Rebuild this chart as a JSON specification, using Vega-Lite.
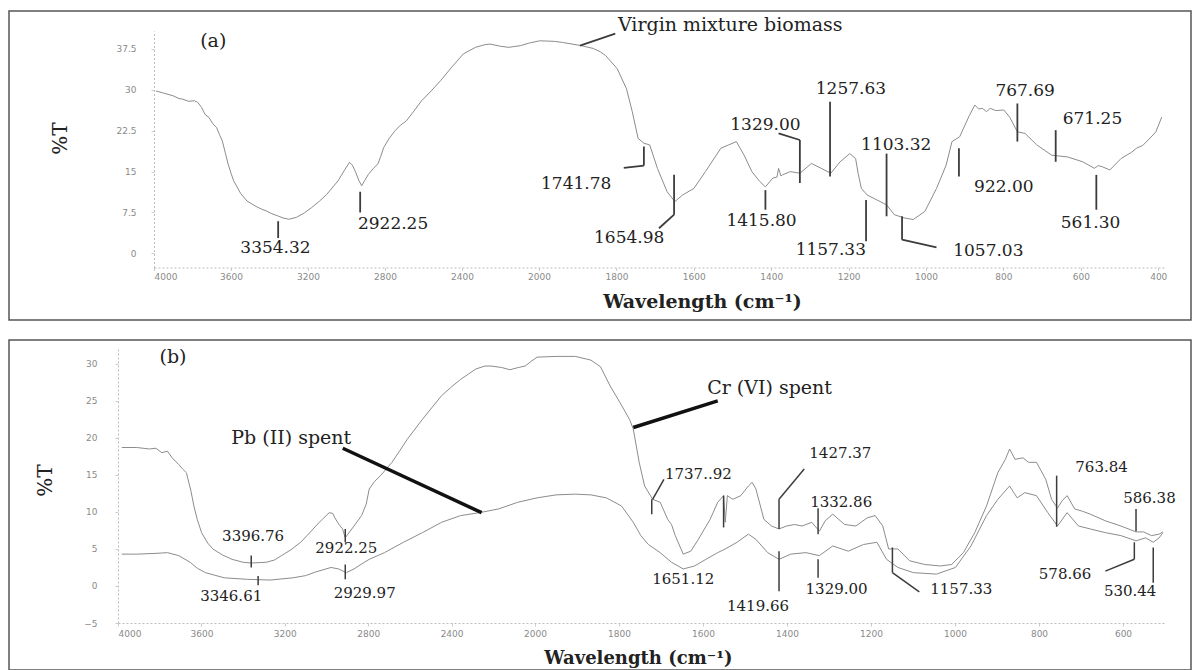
{
  "$schema": "https://vega.github.io/schema/vega-lite/v6.json",
  "padding": {"left": 8, "top": 10, "right": 0, "bottom": 0},
  "background": "white",
  "spacing": 18,
  "config": {
    "view": {"stroke": "#555555", "strokeWidth": 1.5},
    "axis": {
      "grid": false,
      "domainColor": "#bdbdbd",
      "domainDash": [2, 2],
      "domainWidth": 1,
      "tickColor": "#cccccc",
      "tickSize": 3,
      "labelColor": "#8a8a8a",
      "labelFont": "DejaVu Sans",
      "labelFontSize": 9,
      "titleFont": "DejaVu Serif",
      "titleFontSize": 19,
      "titleFontWeight": "bold",
      "titleColor": "#222222"
    }
  },
  "datasets": {
    "specA": [
      {"wn": 3990, "T": 29.8}, {"wn": 3950, "T": 29.4}, {"wn": 3900, "T": 28.9}, {"wn": 3870, "T": 28.4}, {"wn": 3852, "T": 28.3},
      {"wn": 3820, "T": 27.9}, {"wn": 3790, "T": 28.0}, {"wn": 3773, "T": 27.7}, {"wn": 3753, "T": 26.8}, {"wn": 3735, "T": 25.5},
      {"wn": 3714, "T": 24.9}, {"wn": 3695, "T": 23.8}, {"wn": 3675, "T": 23.1}, {"wn": 3660, "T": 21.8}, {"wn": 3645, "T": 20.6},
      {"wn": 3630, "T": 18.5}, {"wn": 3615, "T": 16.4}, {"wn": 3600, "T": 14.7}, {"wn": 3586, "T": 13.3}, {"wn": 3550, "T": 11.0},
      {"wn": 3517, "T": 9.6}, {"wn": 3470, "T": 8.6}, {"wn": 3440, "T": 8.1}, {"wn": 3418, "T": 7.8}, {"wn": 3390, "T": 7.3},
      {"wn": 3359, "T": 6.9}, {"wn": 3330, "T": 6.5}, {"wn": 3300, "T": 6.25}, {"wn": 3260, "T": 6.6}, {"wn": 3220, "T": 7.4},
      {"wn": 3181, "T": 8.4}, {"wn": 3140, "T": 9.6}, {"wn": 3103, "T": 10.8}, {"wn": 3070, "T": 12.2}, {"wn": 3044, "T": 13.3},
      {"wn": 3010, "T": 15.3}, {"wn": 2984, "T": 16.7}, {"wn": 2970, "T": 16.2}, {"wn": 2955, "T": 15.1}, {"wn": 2935, "T": 13.3},
      {"wn": 2921, "T": 12.4}, {"wn": 2905, "T": 13.4}, {"wn": 2886, "T": 14.5}, {"wn": 2860, "T": 15.6}, {"wn": 2837, "T": 16.4},
      {"wn": 2822, "T": 17.8}, {"wn": 2807, "T": 19.4}, {"wn": 2780, "T": 21.0}, {"wn": 2748, "T": 22.5}, {"wn": 2720, "T": 23.5},
      {"wn": 2689, "T": 24.3}, {"wn": 2650, "T": 26.1}, {"wn": 2610, "T": 28.0}, {"wn": 2560, "T": 29.8}, {"wn": 2511, "T": 31.7},
      {"wn": 2450, "T": 34.3}, {"wn": 2393, "T": 36.6}, {"wn": 2330, "T": 37.8}, {"wn": 2280, "T": 38.3}, {"wn": 2255, "T": 38.4},
      {"wn": 2200, "T": 38.0}, {"wn": 2157, "T": 37.8}, {"wn": 2120, "T": 38.0}, {"wn": 2097, "T": 38.1}, {"wn": 2050, "T": 38.6},
      {"wn": 1998, "T": 39.0}, {"wn": 1960, "T": 38.9}, {"wn": 1939, "T": 38.7}, {"wn": 1890, "T": 38.1}, {"wn": 1860, "T": 37.6},
      {"wn": 1842, "T": 37.0}, {"wn": 1828, "T": 36.3}, {"wn": 1798, "T": 33.9}, {"wn": 1774, "T": 30.2}, {"wn": 1759, "T": 26.0},
      {"wn": 1744, "T": 21.1}, {"wn": 1729, "T": 20.2}, {"wn": 1714, "T": 19.9}, {"wn": 1694, "T": 15.6}, {"wn": 1669, "T": 11.3},
      {"wn": 1649, "T": 9.5}, {"wn": 1629, "T": 10.7}, {"wn": 1600, "T": 11.9}, {"wn": 1570, "T": 15.0}, {"wn": 1530, "T": 19.3},
      {"wn": 1510, "T": 19.9}, {"wn": 1490, "T": 20.5}, {"wn": 1470, "T": 18.0}, {"wn": 1450, "T": 15.0}, {"wn": 1430, "T": 13.2},
      {"wn": 1415, "T": 12.2}, {"wn": 1396, "T": 13.8}, {"wn": 1385, "T": 14.0}, {"wn": 1381, "T": 15.6}, {"wn": 1375, "T": 14.2},
      {"wn": 1371, "T": 14.4}, {"wn": 1351, "T": 15.0}, {"wn": 1326, "T": 14.7}, {"wn": 1296, "T": 16.5}, {"wn": 1271, "T": 15.6},
      {"wn": 1246, "T": 14.7}, {"wn": 1222, "T": 16.8}, {"wn": 1197, "T": 18.3}, {"wn": 1182, "T": 17.4}, {"wn": 1175, "T": 14.5},
      {"wn": 1167, "T": 11.9}, {"wn": 1152, "T": 10.7}, {"wn": 1127, "T": 9.8}, {"wn": 1102, "T": 8.9}, {"wn": 1082, "T": 7.1},
      {"wn": 1057, "T": 6.5}, {"wn": 1033, "T": 6.2}, {"wn": 1003, "T": 7.7}, {"wn": 973, "T": 11.9}, {"wn": 948, "T": 16.2},
      {"wn": 933, "T": 20.5}, {"wn": 913, "T": 21.4}, {"wn": 888, "T": 25.3}, {"wn": 874, "T": 27.2}, {"wn": 864, "T": 26.5},
      {"wn": 854, "T": 26.6}, {"wn": 844, "T": 26.0}, {"wn": 834, "T": 26.6}, {"wn": 820, "T": 26.2}, {"wn": 799, "T": 26.3},
      {"wn": 784, "T": 25.0}, {"wn": 764, "T": 22.3}, {"wn": 744, "T": 22.0}, {"wn": 714, "T": 19.9}, {"wn": 675, "T": 18.0},
      {"wn": 635, "T": 17.7}, {"wn": 595, "T": 16.8}, {"wn": 565, "T": 15.6}, {"wn": 555, "T": 16.1}, {"wn": 545, "T": 15.9},
      {"wn": 525, "T": 15.3}, {"wn": 496, "T": 17.4}, {"wn": 470, "T": 18.5}, {"wn": 456, "T": 19.3}, {"wn": 440, "T": 19.8},
      {"wn": 426, "T": 20.8}, {"wn": 406, "T": 22.3}, {"wn": 391, "T": 25.0}
    ],
    "leadA": [
      {"x1": 1894, "y1": 38.1, "x2": 1803, "y2": 40.3},
      {"x1": 3355, "y1": 5.9, "x2": 3355, "y2": 2.8},
      {"x1": 2929, "y1": 11.3, "x2": 2929, "y2": 7.5},
      {"x1": 1729, "y1": 19.6, "x2": 1729, "y2": 16.1},
      {"x1": 1729, "y1": 16.1, "x2": 1781, "y2": 15.7},
      {"x1": 1651, "y1": 14.4, "x2": 1651, "y2": 7.1},
      {"x1": 1651, "y1": 7.1, "x2": 1690, "y2": 4.6},
      {"x1": 1415, "y1": 11.6, "x2": 1415, "y2": 8.0},
      {"x1": 1381, "y1": 22.0, "x2": 1326, "y2": 20.8},
      {"x1": 1326, "y1": 20.8, "x2": 1326, "y2": 12.9},
      {"x1": 1248, "y1": 27.8, "x2": 1248, "y2": 14.1},
      {"x1": 1102, "y1": 18.3, "x2": 1102, "y2": 6.8},
      {"x1": 1155, "y1": 9.8, "x2": 1155, "y2": 2.2},
      {"x1": 1062, "y1": 6.8, "x2": 1062, "y2": 2.5},
      {"x1": 1062, "y1": 2.5, "x2": 973, "y2": 1.1},
      {"x1": 915, "y1": 19.3, "x2": 915, "y2": 14.1},
      {"x1": 764, "y1": 27.5, "x2": 764, "y2": 20.5},
      {"x1": 665, "y1": 22.6, "x2": 665, "y2": 16.8},
      {"x1": 560, "y1": 14.4, "x2": 560, "y2": 8.0}
    ],
    "numA": [
      {"label": "3354.32", "x": 3369, "y": 0.9},
      {"label": "2922.25", "x": 2758, "y": 5.3},
      {"label": "1741.78", "x": 1904, "y": 12.8},
      {"label": "1654.98", "x": 1767, "y": 2.8},
      {"label": "1415.80", "x": 1425, "y": 6.0},
      {"label": "1329.00", "x": 1415, "y": 23.6},
      {"label": "1257.63", "x": 1194, "y": 30.1},
      {"label": "1103.32", "x": 1077, "y": 19.9},
      {"label": "1157.33", "x": 1246, "y": 0.7},
      {"label": "1057.03", "x": 839, "y": 0.5},
      {"label": "922.00", "x": 799, "y": 12.2},
      {"label": "767.69", "x": 744, "y": 29.7},
      {"label": "671.25", "x": 570, "y": 24.7},
      {"label": "561.30", "x": 575, "y": 5.5}
    ],
    "nameA": [
      {"label": "(a)", "x": 3760, "y": 39.0},
      {"label": "Virgin mixture biomass", "x": 1796, "y": 41.9}
    ],
    "specB": [
      {"series": "Cr (VI) spent", "wn": 3982, "T": 18.7}, {"series": "Cr (VI) spent", "wn": 3910, "T": 18.7}, {"series": "Cr (VI) spent", "wn": 3850, "T": 18.5},
      {"series": "Cr (VI) spent", "wn": 3818, "T": 18.6}, {"series": "Cr (VI) spent", "wn": 3790, "T": 18.0}, {"series": "Cr (VI) spent", "wn": 3763, "T": 18.2},
      {"series": "Cr (VI) spent", "wn": 3740, "T": 17.3}, {"series": "Cr (VI) spent", "wn": 3709, "T": 16.4}, {"series": "Cr (VI) spent", "wn": 3690, "T": 15.8},
      {"series": "Cr (VI) spent", "wn": 3672, "T": 15.3}, {"series": "Cr (VI) spent", "wn": 3650, "T": 12.8}, {"series": "Cr (VI) spent", "wn": 3636, "T": 10.8},
      {"series": "Cr (VI) spent", "wn": 3620, "T": 9.0}, {"series": "Cr (VI) spent", "wn": 3599, "T": 7.2}, {"series": "Cr (VI) spent", "wn": 3570, "T": 5.8},
      {"series": "Cr (VI) spent", "wn": 3545, "T": 5.0}, {"series": "Cr (VI) spent", "wn": 3500, "T": 4.2}, {"series": "Cr (VI) spent", "wn": 3453, "T": 3.6},
      {"series": "Cr (VI) spent", "wn": 3400, "T": 3.2}, {"series": "Cr (VI) spent", "wn": 3362, "T": 3.1}, {"series": "Cr (VI) spent", "wn": 3289, "T": 3.2},
      {"series": "Cr (VI) spent", "wn": 3250, "T": 3.5}, {"series": "Cr (VI) spent", "wn": 3216, "T": 4.1}, {"series": "Cr (VI) spent", "wn": 3170, "T": 4.9},
      {"series": "Cr (VI) spent", "wn": 3124, "T": 5.9}, {"series": "Cr (VI) spent", "wn": 3090, "T": 6.9}, {"series": "Cr (VI) spent", "wn": 3051, "T": 8.1},
      {"series": "Cr (VI) spent", "wn": 3020, "T": 9.0}, {"series": "Cr (VI) spent", "wn": 2987, "T": 9.9}, {"series": "Cr (VI) spent", "wn": 2970, "T": 9.8},
      {"series": "Cr (VI) spent", "wn": 2960, "T": 9.2}, {"series": "Cr (VI) spent", "wn": 2940, "T": 8.3}, {"series": "Cr (VI) spent", "wn": 2923, "T": 7.7},
      {"series": "Cr (VI) spent", "wn": 2910, "T": 6.5}, {"series": "Cr (VI) spent", "wn": 2900, "T": 6.9}, {"series": "Cr (VI) spent", "wn": 2868, "T": 8.1},
      {"series": "Cr (VI) spent", "wn": 2832, "T": 9.5}, {"series": "Cr (VI) spent", "wn": 2810, "T": 11.0}, {"series": "Cr (VI) spent", "wn": 2795, "T": 13.1},
      {"series": "Cr (VI) spent", "wn": 2770, "T": 14.1}, {"series": "Cr (VI) spent", "wn": 2741, "T": 14.9}, {"series": "Cr (VI) spent", "wn": 2686, "T": 16.7},
      {"series": "Cr (VI) spent", "wn": 2650, "T": 18.2}, {"series": "Cr (VI) spent", "wn": 2613, "T": 19.8}, {"series": "Cr (VI) spent", "wn": 2540, "T": 22.5},
      {"series": "Cr (VI) spent", "wn": 2448, "T": 25.7}, {"series": "Cr (VI) spent", "wn": 2400, "T": 26.9}, {"series": "Cr (VI) spent", "wn": 2357, "T": 27.9},
      {"series": "Cr (VI) spent", "wn": 2320, "T": 28.6}, {"series": "Cr (VI) spent", "wn": 2284, "T": 29.3}, {"series": "Cr (VI) spent", "wn": 2240, "T": 29.7},
      {"series": "Cr (VI) spent", "wn": 2211, "T": 29.7}, {"series": "Cr (VI) spent", "wn": 2160, "T": 29.5}, {"series": "Cr (VI) spent", "wn": 2120, "T": 29.2},
      {"series": "Cr (VI) spent", "wn": 2080, "T": 29.5}, {"series": "Cr (VI) spent", "wn": 2047, "T": 29.7}, {"series": "Cr (VI) spent", "wn": 2020, "T": 30.3},
      {"series": "Cr (VI) spent", "wn": 1995, "T": 30.9}, {"series": "Cr (VI) spent", "wn": 1950, "T": 31.0}, {"series": "Cr (VI) spent", "wn": 1904, "T": 31.0},
      {"series": "Cr (VI) spent", "wn": 1867, "T": 30.5}, {"series": "Cr (VI) spent", "wn": 1844, "T": 29.6}, {"series": "Cr (VI) spent", "wn": 1821, "T": 27.0},
      {"series": "Cr (VI) spent", "wn": 1798, "T": 24.8}, {"series": "Cr (VI) spent", "wn": 1775, "T": 22.5}, {"series": "Cr (VI) spent", "wn": 1766, "T": 21.2},
      {"series": "Cr (VI) spent", "wn": 1752, "T": 16.7}, {"series": "Cr (VI) spent", "wn": 1739, "T": 13.5}, {"series": "Cr (VI) spent", "wn": 1720, "T": 11.7},
      {"series": "Cr (VI) spent", "wn": 1702, "T": 11.3}, {"series": "Cr (VI) spent", "wn": 1684, "T": 9.0}, {"series": "Cr (VI) spent", "wn": 1675, "T": 8.3},
      {"series": "Cr (VI) spent", "wn": 1666, "T": 6.8}, {"series": "Cr (VI) spent", "wn": 1647, "T": 4.3}, {"series": "Cr (VI) spent", "wn": 1629, "T": 4.7},
      {"series": "Cr (VI) spent", "wn": 1611, "T": 6.3}, {"series": "Cr (VI) spent", "wn": 1583, "T": 9.0}, {"series": "Cr (VI) spent", "wn": 1565, "T": 11.3},
      {"series": "Cr (VI) spent", "wn": 1551, "T": 12.2}, {"series": "Cr (VI) spent", "wn": 1547, "T": 8.6}, {"series": "Cr (VI) spent", "wn": 1542, "T": 12.2},
      {"series": "Cr (VI) spent", "wn": 1529, "T": 11.7}, {"series": "Cr (VI) spent", "wn": 1510, "T": 12.2}, {"series": "Cr (VI) spent", "wn": 1492, "T": 13.5},
      {"series": "Cr (VI) spent", "wn": 1483, "T": 14.0}, {"series": "Cr (VI) spent", "wn": 1474, "T": 13.1}, {"series": "Cr (VI) spent", "wn": 1455, "T": 9.0},
      {"series": "Cr (VI) spent", "wn": 1437, "T": 8.1}, {"series": "Cr (VI) spent", "wn": 1419, "T": 7.7}, {"series": "Cr (VI) spent", "wn": 1401, "T": 8.1},
      {"series": "Cr (VI) spent", "wn": 1382, "T": 8.3}, {"series": "Cr (VI) spent", "wn": 1364, "T": 8.1}, {"series": "Cr (VI) spent", "wn": 1341, "T": 8.6},
      {"series": "Cr (VI) spent", "wn": 1323, "T": 7.4}, {"series": "Cr (VI) spent", "wn": 1309, "T": 8.8}, {"series": "Cr (VI) spent", "wn": 1291, "T": 9.7},
      {"series": "Cr (VI) spent", "wn": 1263, "T": 8.3}, {"series": "Cr (VI) spent", "wn": 1236, "T": 8.1}, {"series": "Cr (VI) spent", "wn": 1209, "T": 9.2},
      {"series": "Cr (VI) spent", "wn": 1190, "T": 9.5}, {"series": "Cr (VI) spent", "wn": 1172, "T": 8.1}, {"series": "Cr (VI) spent", "wn": 1158, "T": 5.0},
      {"series": "Cr (VI) spent", "wn": 1136, "T": 5.0}, {"series": "Cr (VI) spent", "wn": 1108, "T": 3.4}, {"series": "Cr (VI) spent", "wn": 1072, "T": 2.9},
      {"series": "Cr (VI) spent", "wn": 1035, "T": 2.7}, {"series": "Cr (VI) spent", "wn": 1008, "T": 2.9}, {"series": "Cr (VI) spent", "wn": 980, "T": 4.5},
      {"series": "Cr (VI) spent", "wn": 953, "T": 7.2}, {"series": "Cr (VI) spent", "wn": 925, "T": 10.8}, {"series": "Cr (VI) spent", "wn": 898, "T": 15.3},
      {"series": "Cr (VI) spent", "wn": 880, "T": 17.1}, {"series": "Cr (VI) spent", "wn": 870, "T": 18.5}, {"series": "Cr (VI) spent", "wn": 857, "T": 17.1},
      {"series": "Cr (VI) spent", "wn": 838, "T": 17.3}, {"series": "Cr (VI) spent", "wn": 825, "T": 16.7}, {"series": "Cr (VI) spent", "wn": 806, "T": 16.7},
      {"series": "Cr (VI) spent", "wn": 784, "T": 14.4}, {"series": "Cr (VI) spent", "wn": 770, "T": 11.7}, {"series": "Cr (VI) spent", "wn": 756, "T": 10.5},
      {"series": "Cr (VI) spent", "wn": 745, "T": 11.5}, {"series": "Cr (VI) spent", "wn": 733, "T": 12.2}, {"series": "Cr (VI) spent", "wn": 715, "T": 10.4},
      {"series": "Cr (VI) spent", "wn": 697, "T": 10.1}, {"series": "Cr (VI) spent", "wn": 678, "T": 9.7}, {"series": "Cr (VI) spent", "wn": 642, "T": 8.8},
      {"series": "Cr (VI) spent", "wn": 605, "T": 8.1}, {"series": "Cr (VI) spent", "wn": 569, "T": 7.3}, {"series": "Cr (VI) spent", "wn": 551, "T": 7.3},
      {"series": "Cr (VI) spent", "wn": 532, "T": 6.8}, {"series": "Cr (VI) spent", "wn": 514, "T": 7.0}, {"series": "Cr (VI) spent", "wn": 505, "T": 7.3},
      {"series": "Pb (II) spent", "wn": 3982, "T": 4.3}, {"series": "Pb (II) spent", "wn": 3910, "T": 4.3}, {"series": "Pb (II) spent", "wn": 3818, "T": 4.4},
      {"series": "Pb (II) spent", "wn": 3763, "T": 4.5}, {"series": "Pb (II) spent", "wn": 3709, "T": 4.1}, {"series": "Pb (II) spent", "wn": 3654, "T": 3.2},
      {"series": "Pb (II) spent", "wn": 3620, "T": 2.4}, {"series": "Pb (II) spent", "wn": 3581, "T": 1.8}, {"series": "Pb (II) spent", "wn": 3490, "T": 1.1},
      {"series": "Pb (II) spent", "wn": 3380, "T": 0.9}, {"series": "Pb (II) spent", "wn": 3271, "T": 0.8}, {"series": "Pb (II) spent", "wn": 3161, "T": 1.1},
      {"series": "Pb (II) spent", "wn": 3100, "T": 1.4}, {"series": "Pb (II) spent", "wn": 3051, "T": 1.9}, {"series": "Pb (II) spent", "wn": 2978, "T": 2.5},
      {"series": "Pb (II) spent", "wn": 2942, "T": 2.3}, {"series": "Pb (II) spent", "wn": 2905, "T": 1.8}, {"series": "Pb (II) spent", "wn": 2868, "T": 2.3},
      {"series": "Pb (II) spent", "wn": 2830, "T": 3.0}, {"series": "Pb (II) spent", "wn": 2795, "T": 3.6}, {"series": "Pb (II) spent", "wn": 2722, "T": 4.5},
      {"series": "Pb (II) spent", "wn": 2631, "T": 5.9}, {"series": "Pb (II) spent", "wn": 2540, "T": 7.2}, {"series": "Pb (II) spent", "wn": 2448, "T": 8.6},
      {"series": "Pb (II) spent", "wn": 2357, "T": 9.5}, {"series": "Pb (II) spent", "wn": 2266, "T": 9.9}, {"series": "Pb (II) spent", "wn": 2175, "T": 10.4},
      {"series": "Pb (II) spent", "wn": 2083, "T": 11.3}, {"series": "Pb (II) spent", "wn": 1995, "T": 11.9}, {"series": "Pb (II) spent", "wn": 1950, "T": 12.3},
      {"series": "Pb (II) spent", "wn": 1904, "T": 12.4}, {"series": "Pb (II) spent", "wn": 1867, "T": 12.3}, {"series": "Pb (II) spent", "wn": 1830, "T": 11.9},
      {"series": "Pb (II) spent", "wn": 1794, "T": 10.8}, {"series": "Pb (II) spent", "wn": 1766, "T": 8.6}, {"series": "Pb (II) spent", "wn": 1748, "T": 6.8},
      {"series": "Pb (II) spent", "wn": 1730, "T": 5.6}, {"series": "Pb (II) spent", "wn": 1702, "T": 4.5}, {"series": "Pb (II) spent", "wn": 1675, "T": 3.2},
      {"series": "Pb (II) spent", "wn": 1647, "T": 2.3}, {"series": "Pb (II) spent", "wn": 1620, "T": 2.7}, {"series": "Pb (II) spent", "wn": 1593, "T": 3.6},
      {"series": "Pb (II) spent", "wn": 1565, "T": 4.5}, {"series": "Pb (II) spent", "wn": 1547, "T": 5.0}, {"series": "Pb (II) spent", "wn": 1519, "T": 5.9},
      {"series": "Pb (II) spent", "wn": 1492, "T": 7.0}, {"series": "Pb (II) spent", "wn": 1474, "T": 6.3}, {"series": "Pb (II) spent", "wn": 1446, "T": 4.5},
      {"series": "Pb (II) spent", "wn": 1419, "T": 3.6}, {"series": "Pb (II) spent", "wn": 1391, "T": 4.3}, {"series": "Pb (II) spent", "wn": 1355, "T": 4.5},
      {"series": "Pb (II) spent", "wn": 1323, "T": 4.1}, {"series": "Pb (II) spent", "wn": 1291, "T": 5.4}, {"series": "Pb (II) spent", "wn": 1254, "T": 4.7},
      {"series": "Pb (II) spent", "wn": 1218, "T": 5.6}, {"series": "Pb (II) spent", "wn": 1186, "T": 5.9}, {"series": "Pb (II) spent", "wn": 1163, "T": 3.6},
      {"series": "Pb (II) spent", "wn": 1136, "T": 2.5}, {"series": "Pb (II) spent", "wn": 1099, "T": 1.8}, {"series": "Pb (II) spent", "wn": 1044, "T": 1.6},
      {"series": "Pb (II) spent", "wn": 999, "T": 2.5}, {"series": "Pb (II) spent", "wn": 962, "T": 5.4}, {"series": "Pb (II) spent", "wn": 925, "T": 9.5},
      {"series": "Pb (II) spent", "wn": 898, "T": 11.7}, {"series": "Pb (II) spent", "wn": 870, "T": 13.5}, {"series": "Pb (II) spent", "wn": 852, "T": 11.9},
      {"series": "Pb (II) spent", "wn": 834, "T": 12.6}, {"series": "Pb (II) spent", "wn": 806, "T": 12.2}, {"series": "Pb (II) spent", "wn": 779, "T": 9.9},
      {"series": "Pb (II) spent", "wn": 756, "T": 8.1}, {"series": "Pb (II) spent", "wn": 733, "T": 9.9}, {"series": "Pb (II) spent", "wn": 706, "T": 8.1},
      {"series": "Pb (II) spent", "wn": 678, "T": 7.7}, {"series": "Pb (II) spent", "wn": 642, "T": 7.2}, {"series": "Pb (II) spent", "wn": 605, "T": 6.8},
      {"series": "Pb (II) spent", "wn": 569, "T": 6.1}, {"series": "Pb (II) spent", "wn": 546, "T": 6.5}, {"series": "Pb (II) spent", "wn": 528, "T": 5.9},
      {"series": "Pb (II) spent", "wn": 514, "T": 6.5}, {"series": "Pb (II) spent", "wn": 505, "T": 7.2}
    ],
    "leadB": [
      {"x1": 3361, "y1": 4.1, "x2": 3361, "y2": 2.5},
      {"x1": 2910, "y1": 7.7, "x2": 2910, "y2": 5.9},
      {"x1": 3328, "y1": 1.35, "x2": 3328, "y2": 0.1},
      {"x1": 2910, "y1": 2.9, "x2": 2910, "y2": 0.9},
      {"x1": 1693, "y1": 14.4, "x2": 1720, "y2": 11.7},
      {"x1": 1722, "y1": 11.7, "x2": 1722, "y2": 9.7},
      {"x1": 1551, "y1": 12.2, "x2": 1551, "y2": 7.9},
      {"x1": 1359, "y1": 15.8, "x2": 1419, "y2": 11.7},
      {"x1": 1419, "y1": 11.7, "x2": 1419, "y2": 7.7},
      {"x1": 1326, "y1": 10.5, "x2": 1326, "y2": 7.0},
      {"x1": 758, "y1": 14.9, "x2": 758, "y2": 8.0},
      {"x1": 569, "y1": 10.4, "x2": 569, "y2": 7.4},
      {"x1": 1419, "y1": 4.7, "x2": 1419, "y2": -0.7},
      {"x1": 1326, "y1": 3.6, "x2": 1326, "y2": 1.1},
      {"x1": 1149, "y1": 5.2, "x2": 1149, "y2": 1.8},
      {"x1": 1149, "y1": 1.8, "x2": 1085, "y2": -0.8},
      {"x1": 642, "y1": 2.0, "x2": 573, "y2": 3.6},
      {"x1": 573, "y1": 3.6, "x2": 573, "y2": 5.9},
      {"x1": 528, "y1": 5.2, "x2": 528, "y2": 0.45}
    ],
    "pointB": [
      {"x1": 2922, "y1": 18.6, "x2": 2256, "y2": 9.9},
      {"x1": 1565, "y1": 25.0, "x2": 1766, "y2": 21.4}
    ],
    "numB": [
      {"label": "3396.76", "x": 3352, "y": 6.8},
      {"label": "2922.25", "x": 2905, "y": 5.1},
      {"label": "3346.61", "x": 3457, "y": -1.35},
      {"label": "2929.97", "x": 2817, "y": -0.9},
      {"label": "1737..92", "x": 1611, "y": 15.1},
      {"label": "1427.37", "x": 1273, "y": 17.9},
      {"label": "1332.86", "x": 1271, "y": 11.3},
      {"label": "763.84", "x": 651, "y": 16.0},
      {"label": "586.38", "x": 537, "y": 11.9},
      {"label": "1651.12", "x": 1647, "y": 0.9},
      {"label": "1419.66", "x": 1469, "y": -2.7},
      {"label": "1329.00", "x": 1282, "y": -0.45},
      {"label": "1157.33", "x": 985, "y": -0.45},
      {"label": "578.66", "x": 738, "y": 1.6},
      {"label": "530.44", "x": 583, "y": -0.7}
    ],
    "nameB": [
      {"label": "(b)", "x": 3736, "y": 30.9},
      {"label": "Pb (II) spent", "x": 3169, "y": 20.0}
    ],
    "nameB2": [
      {"label": "Cr (VI) spent", "x": 1590, "y": 26.8}
    ]
  },
  "vconcat": [
    {
      "width": 1182,
      "height": 309,
      "layer": [
        {
          "data": {"name": "specA"},
          "mark": {"type": "line", "color": "#8c8c8c", "strokeWidth": 1},
          "encoding": {
            "x": {"field": "wn", "type": "quantitative",
                  "scale": {"domain": [4000, 2000, 380], "range": [145, 530, 1157], "nice": false, "zero": false},
                  "axis": {"title": "Wavelength (cm\u207b\u00b9)", "offset": -52.5, "values": [4000, 3600, 3200, 2800, 2400, 2000, 1800, 1600, 1400, 1200, 1000, 800, 600, 400], "format": "d", "labelPadding": 2, "titleX": 693, "titleY": 33.5, "titleAlign": "center", "titleBaseline": "middle"}},
            "y": {"field": "T", "type": "quantitative",
                  "scale": {"domain": [-2.6, 40.8], "range": [256.5, 20], "nice": false, "zero": false},
                  "axis": {"title": "%T", "offset": -145, "values": [0, 7.5, 15, 22.5, 30, 37.5], "format": ".1~f", "labelPadding": 15, "titleX": -94, "titleY": 127, "titleAngle": 270, "titleAlign": "center", "titleBaseline": "middle", "titleFontWeight": "normal", "titleFontSize": 20}},
            "order": {"field": "wn", "type": "quantitative", "sort": "descending"}
          }
        },
        {
          "data": {"name": "leadA"},
          "mark": {"type": "rule", "color": "#3c3c3c", "strokeWidth": 1.8},
          "encoding": {
            "x": {"field": "x1", "type": "quantitative"},
            "x2": {"field": "x2"},
            "y": {"field": "y1", "type": "quantitative"},
            "y2": {"field": "y2"}
          }
        },
        {
          "data": {"name": "numA"},
          "mark": {"type": "text", "font": "DejaVu Serif", "fontSize": 17, "color": "#222222", "align": "center", "baseline": "middle"},
          "encoding": {
            "x": {"field": "x", "type": "quantitative"},
            "y": {"field": "y", "type": "quantitative"},
            "text": {"field": "label"}
          }
        },
        {
          "data": {"name": "nameA"},
          "mark": {"type": "text", "font": "DejaVu Serif", "fontSize": 19, "color": "#222222", "align": "left", "baseline": "middle"},
          "encoding": {
            "x": {"field": "x", "type": "quantitative"},
            "y": {"field": "y", "type": "quantitative"},
            "text": {"field": "label"}
          }
        }
      ]
    },
    {
      "width": 1182,
      "height": 330,
      "layer": [
        {
          "data": {"name": "specB"},
          "mark": {"type": "line", "color": "#8c8c8c", "strokeWidth": 1},
          "encoding": {
            "x": {"field": "wn", "type": "quantitative",
                  "scale": {"domain": [4000, 2000, 500], "range": [109, 526, 1156], "nice": false, "zero": false},
                  "axis": {"title": "Wavelength (cm\u207b\u00b9)", "offset": -47, "values": [4000, 3600, 3200, 2800, 2400, 2000, 1800, 1600, 1400, 1200, 1000, 800, 600], "format": "d", "labelPadding": 3, "titleX": 629, "titleY": 35, "titleAlign": "center", "titleBaseline": "middle", "titleFontSize": 18}},
            "y": {"field": "T", "type": "quantitative",
                  "scale": {"domain": [-5, 32], "range": [283, 9], "nice": false, "zero": false},
                  "axis": {"title": "%T", "offset": -109, "values": [-5, 0, 5, 10, 15, 20, 25, 30], "format": "d", "labelPadding": 18, "titleX": -73, "titleY": 140, "titleAngle": 270, "titleAlign": "center", "titleBaseline": "middle", "titleFontWeight": "normal", "titleFontSize": 20}},
            "detail": {"field": "series", "type": "nominal"},
            "order": {"field": "wn", "type": "quantitative", "sort": "descending"}
          }
        },
        {
          "data": {"name": "leadB"},
          "mark": {"type": "rule", "color": "#3c3c3c", "strokeWidth": 1.5},
          "encoding": {
            "x": {"field": "x1", "type": "quantitative"},
            "x2": {"field": "x2"},
            "y": {"field": "y1", "type": "quantitative"},
            "y2": {"field": "y2"}
          }
        },
        {
          "data": {"name": "pointB"},
          "mark": {"type": "rule", "color": "#111111", "strokeWidth": 3.5},
          "encoding": {
            "x": {"field": "x1", "type": "quantitative"},
            "x2": {"field": "x2"},
            "y": {"field": "y1", "type": "quantitative"},
            "y2": {"field": "y2"}
          }
        },
        {
          "data": {"name": "numB"},
          "mark": {"type": "text", "font": "DejaVu Serif", "fontSize": 15, "color": "#222222", "align": "center", "baseline": "middle"},
          "encoding": {
            "x": {"field": "x", "type": "quantitative"},
            "y": {"field": "y", "type": "quantitative"},
            "text": {"field": "label"}
          }
        },
        {
          "data": {"name": "nameB"},
          "mark": {"type": "text", "font": "DejaVu Serif", "fontSize": 19, "color": "#222222", "align": "center", "baseline": "middle"},
          "encoding": {
            "x": {"field": "x", "type": "quantitative"},
            "y": {"field": "y", "type": "quantitative"},
            "text": {"field": "label"}
          }
        },
        {
          "data": {"name": "nameB2"},
          "mark": {"type": "text", "font": "DejaVu Serif", "fontSize": 19, "color": "#222222", "align": "left", "baseline": "middle"},
          "encoding": {
            "x": {"field": "x", "type": "quantitative"},
            "y": {"field": "y", "type": "quantitative"},
            "text": {"field": "label"}
          }
        }
      ]
    }
  ]
}
